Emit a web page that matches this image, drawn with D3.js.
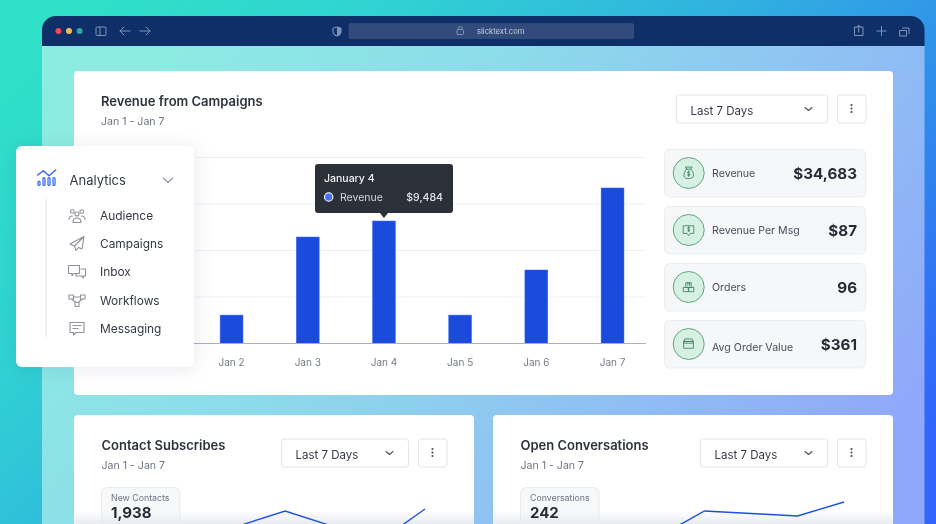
<!DOCTYPE html>
<html><head><meta charset="utf-8">
<script src="https://cdn.jsdelivr.net/npm/d3@7/dist/d3.min.js"></script>
<style>
html,body{margin:0;padding:0;background:#2f9fe0;overflow:hidden}
svg{display:block;font-family:Inter,"Noto Sans",sans-serif;filter:blur(0.3px)}
</style></head><body><div id="c"></div>
<script>
// ---- data ----
const days = ["Jan 1","Jan 2","Jan 3","Jan 4","Jan 5","Jan 6","Jan 7"];
const revenue = [null,2200,8245,9484,2200,5690,12040];
const gridTicks = [0,3600,7200,10800,14400];
const statLabels = ["Revenue","Revenue Per Msg","Orders","Avg Order Value"];
const statValues = ["$34,683","$87","96","$361"];
const navItems = ["Audience","Campaigns","Inbox","Workflows","Messaging"];
const lineDays = ["Jan 3","Jan 4","Jan 5","Jan 6","Jan 7"];
const subscribes = [340,490,340,180,510];
const conversations = [23,49,46.5,44,58];

const W=936,H=524;
const svg=d3.select("#c").append("svg").attr("width",W).attr("height",H);
const defs=svg.append("defs");
function grad(id,x1,y1,x2,y2,stops){
  const g=defs.append("linearGradient").attr("id",id).attr("x1",x1).attr("y1",y1).attr("x2",x2).attr("y2",y2);
  stops.forEach(s=>g.append("stop").attr("offset",s[0]).attr("stop-color",s[1]).attr("stop-opacity",s[2]===undefined?1:s[2]));
}
grad("bg",0,0.2,1,0.8,[[0,"#2fdfc8"],[0.2,"#30d4d2"],[0.5,"#30b0e0"],[0.8,"#3080ee"],[1,"#3165fb"]]);
grad("win",0,0.3,1,0.7,[[0,"#8cece2"],[0.35,"#8cdcea"],[0.65,"#8fc4f2"],[1,"#90a8fa"]]);
grad("fade",0,0,0,1,[[0,"#e8ebef",0],[1,"#e8ebef",1]]);
const sh=defs.append("filter").attr("id","shadow").attr("x","-30%").attr("y","-30%").attr("width","160%").attr("height","160%");
sh.append("feDropShadow").attr("dx",0).attr("dy",2).attr("stdDeviation",10).attr("flood-color","#1b2a55").attr("flood-opacity",0.09);

const rect=(p,x,y,w,h,r,fill,stroke,sw)=>p.append("rect").attr("x",x).attr("y",y).attr("width",w).attr("height",h).attr("rx",r||0)
  .attr("fill",fill||"none").attr("stroke",stroke||"none").attr("stroke-width",sw||0);
const text=(p,x,y,t,size,weight,fill,anchor)=>p.append("text").attr("x",x).attr("y",y).text(t).attr("font-size",size)
  .attr("font-weight",weight||400).attr("fill",fill||"#2b303a").attr("text-anchor",anchor||"start");
const ico=(p,x,y,d,color,sw,sc)=>p.append("path").attr("transform",`translate(${x},${y}) scale(${sc||1})`).attr("d",d)
  .attr("fill","none").attr("stroke",color).attr("stroke-width",sw||1).attr("stroke-linecap","round").attr("stroke-linejoin","round");

// backdrop and browser window
rect(svg,0,0,W,H,0,"url(#bg)");
rect(svg,42,46,882.5,H-46,0,"url(#win)");
svg.append("path").attr("d","M42,46V30a14,14 0 0 1 14,-14H910.5a14,14 0 0 1 14,14V46Z").attr("fill","#0f2f69");
[[58.4,"#f4455a"],[69,"#f3bd4f"],[79.6,"#2fa79b"]].forEach(d=>svg.append("circle").attr("cx",d[0]).attr("cy",31).attr("r",3).attr("fill",d[1]));
const tb="#7f93b7";
rect(svg,96,27,10,8.5,1,"none",tb,1);
svg.append("line").attr("x1",100).attr("x2",100).attr("y1",27).attr("y2",35.5).attr("stroke",tb);
ico(svg,120,31,"M10,0H0M4,-4L0,0L4,4",tb);
ico(svg,140,31,"M0,0H10M6,-4L10,0L6,4",tb);
ico(svg,333,27,"M4,0L8,1.2V4.5C8,7 6,8.4 4,9C2,8.4 0,7 0,4.5V1.2Z",tb,1.1);
svg.append("path").attr("d","M337,27L341,28.2V31.5C341,34 339,35.4 337,36Z").attr("fill",tb);
rect(svg,348.5,23,285.5,16,2,"#334b7c");
rect(svg,457,29.5,6.5,5,1,"none",tb,1);
ico(svg,458.2,29.5,"M0,0V-1a2,2 0 0 1 4,0V0",tb);
text(svg,477,34,"slicktext.com",7.6,400,"#c4cedf");
ico(svg,854.5,27,"M3,0H0V8.5H8.5V0H5.5M4.2,5V-1.5M2.5,0L4.2,-1.5L6,0",tb);
ico(svg,877,31,"M0,0H9M4.5,-4.5V4.5",tb);
ico(svg,900,28,"M0,2.5H6.5V8H0ZM2.5,0H9V5.5",tb);

// top card
const topCard=svg.append("g");
rect(topCard,74,71,819,324,4,"#fff");
text(topCard,101,106,"Revenue from Campaigns",13,600,"#2d323c");
text(topCard,101,125,"Jan 1 - Jan 7",10.6,400,"#6e7480");

function controls(p,x0,w){
  rect(p.g,x0+.5,p.y+.5,w,28,3,"#fff","#e1e5ec",1);
  text(p.g,x0+14.5,p.y+20,"Last 7 Days",11.5,400,"#343a45");
  ico(p.g,x0+w-22,p.y+13,"M0,0L3.5,3L7,0","#4a505c",1.1);
  rect(p.g,x0+w+10.5,p.y+.5,28.5,28,3,"#fff","#e1e5ec",1);
  [-3.5,0,3.5].forEach(d=>p.g.append("circle").attr("cx",x0+w+24.5).attr("cy",p.y+14+d).attr("r",1.1).attr("fill","#4a505c"));
}
controls({g:topCard,y:94.5},676,151);

// bar chart
const x=d3.scaleBand().domain(days).range([90.6,677.3]).padding(0.7);
const y=d3.scaleLinear().domain([0,14400]).range([343.5,157.5]);
const gridG=topCard.append("g");
gridG.selectAll("line").data(gridTicks.slice(1)).join("line").attr("x1",117).attr("x2",646).attr("y1",d=>y(d)).attr("y2",d=>y(d)).attr("stroke","#eef0f6").attr("stroke-width",1);
topCard.append("g").selectAll("rect").data(days.map((d,i)=>({d,v:revenue[i]})).filter(d=>d.v!==null)).join("rect")
  .attr("x",d=>x(d.d)).attr("y",d=>y(d.v)).attr("width",x.bandwidth()).attr("height",d=>y(0)-y(d.v)).attr("fill","#1a4bdc").attr("stroke","#3f6bee").attr("stroke-width",0.5);
const axis=topCard.append("g").attr("transform","translate(0,343.5)").call(d3.axisBottom(x).tickSize(0).tickPadding(15.5));
axis.select(".domain").attr("d","M117,0H646").attr("stroke","#a9aeb8").attr("stroke-width",1);
axis.selectAll("text").attr("font-family","Inter").attr("font-size",10).attr("fill","#747a86").attr("dy","0.71em");

// tooltip
const tx=x("Jan 4")+x.bandwidth()/2;
const tip=svg.append("g");
rect(tip,315,164,138,49,3,"#2c3038");
tip.append("path").attr("d",`M${tx-4},213L${tx},218L${tx+4},213Z`).attr("fill","#2c3038");
text(tip,324,182,"January 4",10.5,500,"#f2f3f5");
tip.append("circle").attr("cx",328.7).attr("cy",197).attr("r",4.2).attr("fill","#4a72f0").attr("stroke","#fff").attr("stroke-width",1.1);
text(tip,340,201,"Revenue",10.5,400,"#d3d6db");
text(tip,443,201,"$"+d3.format(",")(revenue[3]),10.5,500,"#e4e6ea","end");

// stat cards
const statY=[149,206,263,320], iconC="#3f7f60";
const statIcons=[
 "M-2.5,-4.5L-4,-7H4L2.5,-4.5C5,-2 6,1 5.5,3.5C5,6 3,6.5 0,6.5C-3,6.5 -5,6 -5.5,3.5C-6,1 -5,-2 -2.5,-4.5ZM-2.5,-4.5H2.5M1.4,-1.2C.5,-2 -1.5,-1.8 -1.5,-.5C-1.5,1 1.5,.6 1.5,2C1.5,3.3 -.7,3.4 -1.5,2.6M0,-2.5V4",
 "M-6,-5H6V4H2L0,6.5L-2,4H-6ZM1.2,-2.8C.4,-3.4 -1.2,-3.2 -1.2,-2C-1.2,-.7 1.2,-1 1.2,.3C1.2,1.3 -.5,1.4 -1.2,.8M0,-4V2",
 "M-6,0.5H-.5V5.5H-6ZM.5,0.5H6V5.5H.5ZM-3,-5H3V0.5H-3ZM-1,-5V-2M1,-5V-2",
 "M-5.5,-3H5.5V5H-5.5ZM-4,-6H4L5.5,-3H-5.5ZM-5.5,-1H5.5"
];
statLabels.forEach((l,i)=>{
  const g=svg.append("g"), sy=statY[i];
  rect(g,664.5,sy+.5,201,47.5,5,"#f6f7f9","#eaedf1",1);
  const cy=sy+24;
  g.append("circle").attr("cx",688.7).attr("cy",cy).attr("r",15.5).attr("fill","#d6f0e3").attr("stroke","#63a585").attr("stroke-width",1);
  ico(g,688.7,cy,statIcons[i],iconC,1,0.85);
  text(g,712,sy+28+(i==3?3:0),l,10.6,400,"#484e59");
  text(g,857,sy+29.5,statValues[i],15.2,700,"#262b35","end");
});

// bottom cards
function miniCard(x0,title,label,value){
  const g=svg.append("g");
  rect(g,x0,415,400,120,4,"#fff");
  text(g,x0+27.5,450,title,13,600,"#2d323c");
  text(g,x0+27.5,469,"Jan 1 - Jan 7",10.6,400,"#6e7480");
  controls({g,y:438.5},x0+207,127);
  rect(g,x0+27.5,487.5,78.5,50,6,"#f7f8fa","#e6e9ee",1);
  rect(g,x0,511,400,13,0,"url(#fade)");
  text(g,x0+37,501,label,8.8,400,"#6e7480");
  text(g,x0+37,518,value,15,700,"#262b35");
  return g;
}
const lx=d3.scalePoint().domain(lineDays).range([238.5,425]);
const ly=d3.scaleLinear().domain([0,1000]).range([560,460]);
const g1=miniCard(74,"Contact Subscribes","New Contacts","1,938");
g1.append("path").datum(subscribes).attr("d",d3.line().x((d,i)=>lx(lineDays[i])).y(d=>ly(d)))
  .attr("fill","none").attr("stroke","#1f50e6").attr("stroke-width",1.4);
const rx=d3.scalePoint().domain(lineDays).range([658,844]);
const ry=d3.scaleLinear().domain([0,100]).range([560,460]);
const g2=miniCard(493,"Open Conversations","Conversations","242");
g2.append("path").datum(conversations).attr("d",d3.line().x((d,i)=>rx(lineDays[i])).y(d=>ry(d)))
  .attr("fill","none").attr("stroke","#1f50e6").attr("stroke-width",1.4);

// analytics panel
const nav=svg.append("g");
rect(nav,16,146,178,221,6,"#fff").attr("filter","url(#shadow)");
[[39,4.5],[44,8],[49,8],[54,8]].forEach(d=>rect(nav,d[0]-1,185.5-d[1],2,d[1],1,"none","#2f62ee",1.2));
ico(nav,37.7,175,"M0,0L5.6,-4.3L11.3,.7L18,-5","#2f62ee",1.4);
text(nav,69.5,185,"Analytics",13,400,"#343a45");
ico(nav,163.5,178,"M0,0L4.5,4.5L9,0","#8e949e",1.1);
nav.append("line").attr("x1",46).attr("x2",46).attr("y1",199).attr("y2",337).attr("stroke","#dfe3e9").attr("stroke-width",1);
const navY=[216,244,272,300.5,329], nc="#8d929b";
const navIcons=[
 "M-8,4C-8,1.5 -6.5,0.5 -4.5,0.5M8,4C8,1.5 6.5,0.5 4.5,0.5M-4,7C-4,3.5 -2.5,2.5 0,2.5C2.5,2.5 4,3.5 4,7ZM-2,-1.5a2,2 0 1 0 4,0a2,2 0 1 0 -4,0M-6.5,-4a1.8,1.8 0 1 0 3.6,0a1.8,1.8 0 1 0 -3.6,0M2.9,-4a1.8,1.8 0 1 0 3.6,0a1.8,1.8 0 1 0 -3.6,0",
 "M7,-7L-7,0.5L-2.5,2.5L-1,7L1.5,4L5,5.5ZM7,-7L-2.5,2.5",
 "M-8.5,-6H2.5V2H-3L-5,4V2H-8.5ZM4,-2.5H8.5V4.5H6.5V6.5L4.5,4.5H-1V2.5",
 "M-8,-5H-3.5V-1H-8ZM3.5,-5H8V-1H3.5ZM-2,2.5H2V6.5H-2ZM-3.5,-3H3.5M-5.5,-1L-1,2.5M5.5,-1L1,2.5",
 "M-7,-6H7V4H-1L-3.5,6.5V4H-7ZM-4,-3H4M-4,0H1"
];
navItems.forEach((n,i)=>{
  ico(nav,77,navY[i]-.5,navIcons[i],nc,1.1);
  text(nav,100,navY[i]+4,n,11.9,400,"#343a45");
});
</script></body></html>
